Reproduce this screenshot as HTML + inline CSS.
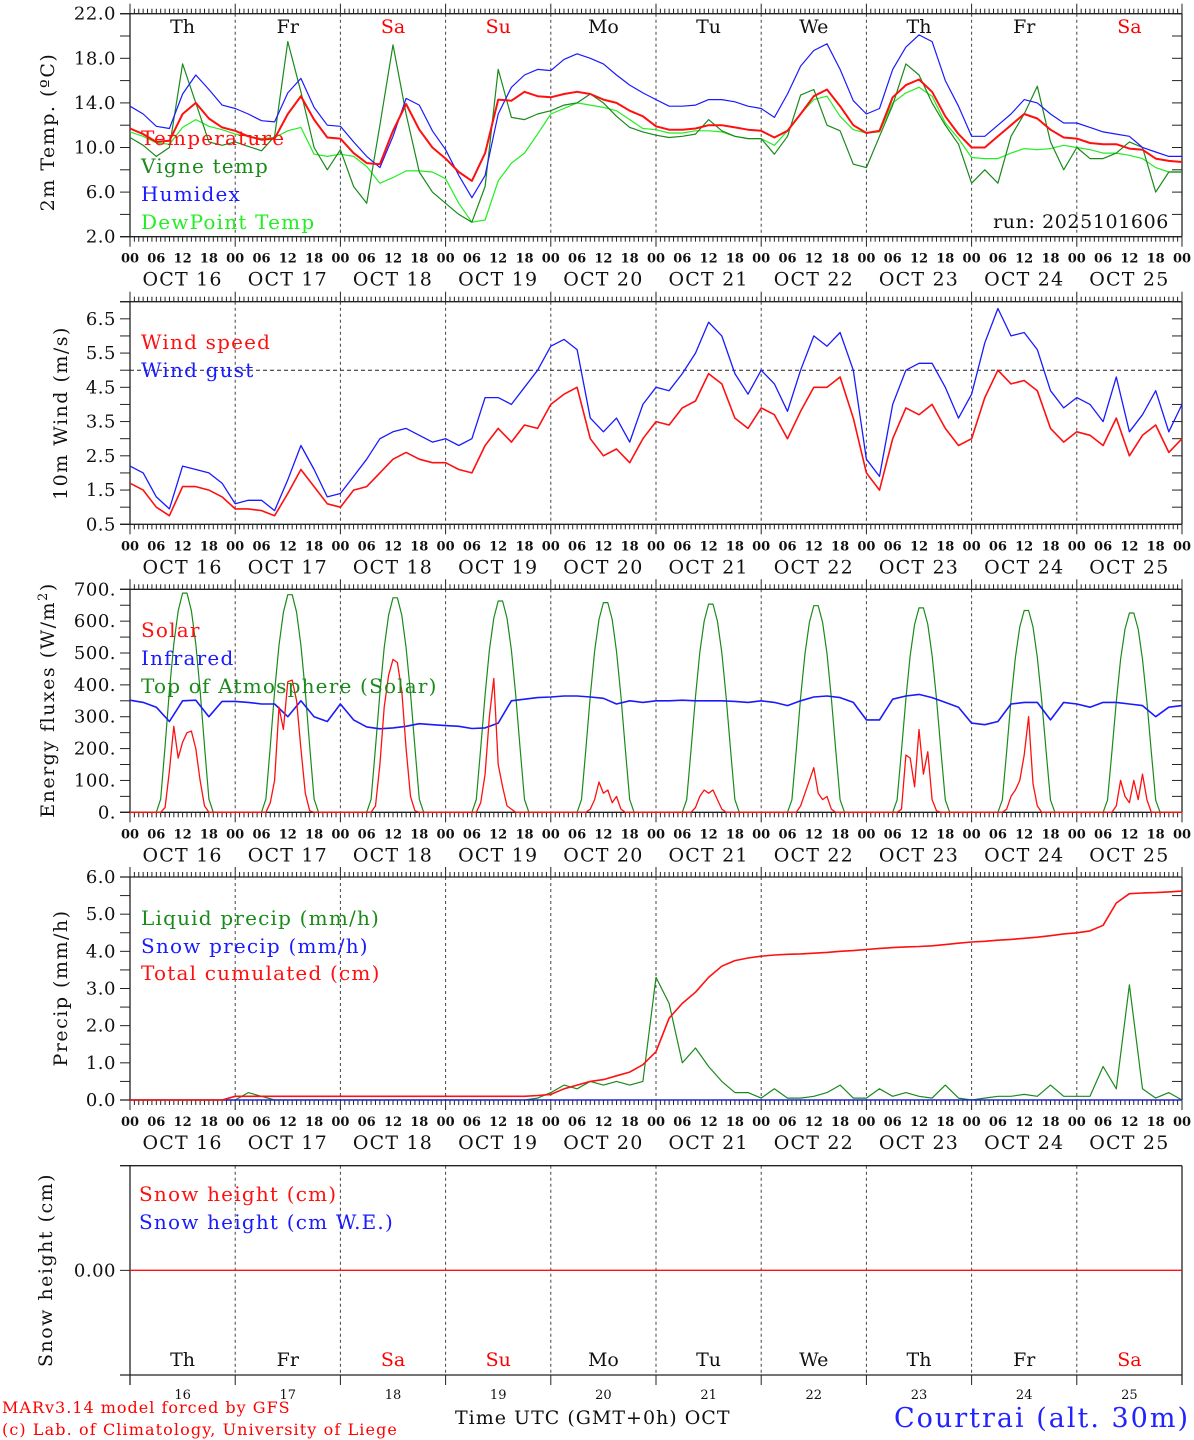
<!DOCTYPE html>
<html><head><meta charset="utf-8"><style>
html,body{margin:0;padding:0;background:#fff;}
svg{display:block;font-family:"DejaVu Serif","Liberation Serif",serif;}
</style></head><body>
<svg id="chart" width="1194" height="1440" viewBox="0 0 1194 1440" xmlns="http://www.w3.org/2000/svg"></svg>
<script>
// ---------- data (3-hourly unless noted, hours 0..240) ----------
const dayNames = ["Th","Fr","Sa","Su","Mo","Tu","We","Th","Fr","Sa"];
const dayNums = ["16","17","18","19","20","21","22","23","24","25"];
const hourLabels = ["00","06","12","18"];
const tempTicks = [2,6,10,14,18,22];
const windTicks = [0.5,1.5,2.5,3.5,4.5,5.5,6.5];
const fluxTicks = [0,100,200,300,400,500,600,700];
const precTicks = [0,1,2,3,4,5,6];

const temperature = [11.7,11.2,10.5,10.6,13.0,14.0,12.6,11.8, 11.5,11.0,10.7,10.8,13.0,14.6,12.5,10.9,
 10.8,9.5,8.6,8.5,11.5,13.9,11.6,10.0, 9.0,7.8,7.0,9.5,14.3,14.2,15.0,14.6,
 14.5,14.8,15.0,14.8,14.3,14.0,13.3,12.8, 11.9,11.6,11.6,11.7,12.0,12.0,11.8,11.6,
 11.5,10.9,11.5,13.0,14.6,15.2,13.7,12.0, 11.3,11.5,14.5,15.6,16.1,15.0,12.8,11.2,
 10.0,10.0,11.0,12.0,13.0,12.6,11.6,10.9, 10.8,10.4,10.3,10.3,9.9,9.8,9.0,8.8, 8.7];
const vigne = [10.9,10.2,9.2,10.0,17.5,14.0,10.5,10.2, 10.5,10.1,9.7,11.0,19.5,15.0,10.0,8.0,
 9.8,6.5,5.0,12.0,19.2,13.0,7.8,6.0, 5.0,4.0,3.3,6.5,17.0,12.7,12.5,13.0,
 13.3,13.8,14.0,14.8,14.0,12.8,11.8,11.4, 11.1,10.9,11.0,11.2,12.5,11.5,11.0,10.8,
 10.8,9.4,11.0,14.7,15.2,12.0,11.5,8.5, 8.2,11.0,13.8,17.5,16.5,14.0,12.0,10.3,
 6.8,8.0,6.8,11.0,13.0,15.5,10.5,8.0, 10.0,9.0,9.0,9.5,10.5,10.0,6.0,7.8, 7.8];
const humidex = [13.7,13.0,11.9,11.7,14.8,16.5,15.2,13.8, 13.5,13.0,12.4,12.3,14.9,16.2,13.6,12.0,
 11.9,10.5,9.2,8.2,11.0,14.4,13.8,11.5, 9.8,7.5,5.5,7.5,13.0,15.4,16.5,17.0,
 16.9,17.9,18.4,18.0,17.5,16.5,15.6,14.9, 14.3,13.7,13.7,13.8,14.3,14.3,14.1,13.7,
 13.5,12.7,14.8,17.3,18.7,19.3,17.0,14.2, 13.0,13.5,17.0,19.0,20.1,19.5,16.0,13.7,
 11.0,11.0,12.0,13.0,14.3,14.0,13.0,12.2, 12.2,11.8,11.4,11.2,11.0,10.0,9.6,9.2, 9.2];
const dewpoint = [11.4,11.0,10.4,10.3,11.8,12.5,11.9,11.6, 11.2,11.0,10.8,10.9,11.5,11.8,9.4,9.2,
 9.4,9.2,8.3,6.8,7.3,7.9,7.9,7.8, 7.2,5.0,3.3,3.5,7.0,8.6,9.5,11.2,
 13.0,13.5,14.0,13.8,13.6,13.3,12.5,11.7, 11.6,11.3,11.3,11.5,11.5,11.4,11.0,10.8,
 10.8,10.2,11.5,13.0,14.3,14.6,12.8,11.6, 11.3,11.4,14.0,14.9,15.4,14.6,12.2,10.8,
 9.1,9.0,9.0,9.5,9.9,9.8,9.9,10.2, 10.0,9.8,9.5,9.5,9.3,9.0,8.2,7.8, 7.8];

const windSpeed = [1.7,1.5,1.0,0.75,1.6,1.6,1.5,1.3, 0.95,0.95,0.9,0.75,1.4,2.1,1.6,1.1,
 1.0,1.5,1.6,2.0,2.4,2.6,2.4,2.3, 2.3,2.1,2.0,2.8,3.3,2.9,3.4,3.3,
 4.0,4.3,4.5,3.0,2.5,2.7,2.3,3.0, 3.5,3.4,3.9,4.1,4.9,4.6,3.6,3.3,
 3.9,3.7,3.0,3.8,4.5,4.5,4.8,3.6, 2.0,1.5,3.0,3.9,3.7,4.0,3.3,2.8,
 3.0,4.2,5.0,4.6,4.7,4.4,3.3,2.9, 3.2,3.1,2.8,3.6,2.5,3.1,3.4,2.6, 3.0];
const windGust = [2.2,2.0,1.3,0.95,2.2,2.1,2.0,1.7, 1.1,1.2,1.2,0.9,1.8,2.8,2.1,1.3,
 1.4,1.9,2.4,3.0,3.2,3.3,3.1,2.9, 3.0,2.8,3.0,4.2,4.2,4.0,4.5,5.0,
 5.7,5.9,5.6,3.6,3.2,3.6,2.9,4.0, 4.5,4.4,4.9,5.5,6.4,6.0,4.9,4.3,
 5.0,4.6,3.8,5.0,6.0,5.7,6.1,5.0, 2.4,1.9,4.0,5.0,5.2,5.2,4.5,3.6,
 4.3,5.8,6.8,6.0,6.1,5.6,4.4,3.9, 4.2,4.0,3.5,4.8,3.2,3.7,4.4,3.2, 4.0];

// energy: TOA = daily peak x hourly profile (profile)
const toaPeaks = [695,690,680,670,665,660,655,648,640,632];
const toaProfile = [0,0,0,0,0,0,0,0.06,0.3,0.55,0.76,0.91,0.99,0.99,0.91,0.76,0.55,0.3,0.06,0,0,0,0,0];
// solar: hourly values per day
const solarDays = [
 [0,0,0,0,0,0,0,0,15,130,270,170,220,250,255,200,100,20,0,0,0,0,0,0],
 [0,0,0,0,0,0,0,0,30,100,330,260,410,415,350,200,60,5,0,0,0,0,0,0],
 [0,0,0,0,0,0,0,0,20,150,330,430,480,470,380,200,50,5,0,0,0,0,0,0],
 [0,0,0,0,0,0,0,0,30,120,300,420,150,80,20,10,0,0,0,0,0,0,0,0],
 [0,0,0,0,0,0,0,0,0,10,40,95,60,70,30,50,10,0,0,0,0,0,0,0],
 [0,0,0,0,0,0,0,0,0,15,50,70,60,70,40,10,0,0,0,0,0,0,0,0],
 [0,0,0,0,0,0,0,0,0,20,60,100,140,60,40,50,10,0,0,0,0,0,0,0],
 [0,0,0,0,0,0,0,0,10,180,170,80,260,120,190,40,5,0,0,0,0,0,0,0],
 [0,0,0,0,0,0,0,0,10,50,70,100,180,300,90,20,0,0,0,0,0,0,0,0],
 [0,0,0,0,0,0,0,0,0,20,100,50,30,100,40,120,40,0,0,0,0,0,0,0]];
const infrared = [352,345,330,285,350,352,300,348, 348,345,340,340,300,350,300,285,
 340,290,268,262,265,270,278,275, 272,270,263,265,280,350,355,360,
 362,365,365,362,358,340,350,345, 350,350,352,350,350,350,348,345,
 350,345,335,350,362,365,360,345, 290,290,355,365,370,360,345,330,
 280,275,285,340,345,345,290,345, 340,330,345,345,340,335,300,330, 335];

const liquidPrecip = [0,0,0,0,0,0,0,0, 0,0.2,0.1,0,0,0,0,0, 0,0,0,0,0,0,0,0, 0,0,0,0,0,0,0,0.05,
 0.2,0.4,0.3,0.5,0.4,0.5,0.4,0.5, 3.3,2.6,1.0,1.4,0.9,0.5,0.2,0.2,
 0.05,0.3,0.05,0.05,0.1,0.2,0.4,0.05, 0.05,0.3,0.1,0.2,0.1,0.05,0.4,0.05,
 0,0.05,0.1,0.1,0.15,0.1,0.4,0.1, 0.1,0.1,0.9,0.3,3.1,0.3,0.05,0.2, 0];
const snowPrecip = new Array(81).fill(0);
const cumulPrecip = [0,0,0,0,0,0,0,0, 0.1,0.1,0.1,0.1,0.1,0.1,0.1,0.1, 0.1,0.1,0.1,0.1,0.1,0.1,0.1,0.1,
 0.1,0.1,0.1,0.1,0.1,0.1,0.1,0.12, 0.15,0.3,0.4,0.5,0.55,0.65,0.75,0.95,
 1.3,2.2,2.6,2.9,3.3,3.6,3.75,3.82, 3.87,3.9,3.92,3.93,3.95,3.97,4.0,4.02,
 4.05,4.08,4.1,4.12,4.13,4.15,4.18,4.22, 4.25,4.27,4.3,4.32,4.35,4.38,4.42,4.47,
 4.5,4.55,4.7,5.3,5.55,5.57,5.58,5.6, 5.62];
const snowHeight = new Array(81).fill(0);

// ---------- drawing ----------
const svg = document.getElementById('chart');
const NS = "http://www.w3.org/2000/svg";
const L = 130, R = 1182;
function X(h){ return L + h*(R-L)/240; }
function mk(tag, attrs, parent){ const e=document.createElementNS(NS,tag); for(const k in attrs) e.setAttribute(k,attrs[k]); (parent||svg).appendChild(e); return e; }
function txt(s, x, y, attrs){ const t=mk('text', Object.assign({x:x,y:y},attrs||{})); t.textContent=s; return t; }

const panels = [
 {name:'temperature', top:13.7, bot:236.7, min:2, max:22},
 {name:'wind', top:301.7, bot:524.3, min:0.5, max:7.0},
 {name:'flux', top:589.3, bot:812.3, min:0, max:700},
 {name:'precip', top:877, bot:1100, min:0, max:6},
 {name:'snow', top:1165.7, bot:1375, min:-1, max:1}
];
function Yf(p){ return v => p.bot - (v-p.min)*(p.bot-p.top)/(p.max-p.min); }

function series(p, arr, step, color, w, name){
  const Y = Yf(p); let d='';
  arr.forEach((v,i)=>{ d += (i?'L':'M') + X(i*step).toFixed(1) + ' ' + Y(v).toFixed(1); });
  const e = mk('path',{d:d,fill:'none',stroke:color,'stroke-width':w,'stroke-linejoin':'round'});
  
  
}

function frame(p, idx, yTicks, minorStep, fmt, hourTicks){
  const g = mk('g',{});
  
  
  const Y = Yf(p);
  for(let d=1; d<10; d++) mk('line',{x1:X(d*24),x2:X(d*24),y1:p.top,y2:p.bot,stroke:'#444','stroke-width':1,'stroke-dasharray':'3,3'},g);
  mk('line',{x1:120,x2:R,y1:p.top,y2:p.top,stroke:'#222','stroke-width':1.3},g);
  mk('line',{x1:120,x2:R,y1:p.bot,y2:p.bot,stroke:'#222','stroke-width':1.3},g);
  mk('line',{x1:L,x2:L,y1:p.top,y2:p.bot+(hourTicks?0:10),stroke:'#222','stroke-width':1.3},g);
  mk('line',{x1:R,x2:R,y1:p.top,y2:p.bot+(hourTicks?0:10),stroke:'#222','stroke-width':1.3},g);
  if(minorStep){
    for(let v=p.min; v<=p.max+1e-9; v+=minorStep){
      const y=Y(v);
      mk('line',{x1:120,x2:L,y1:y,y2:y,stroke:'#222','stroke-width':1},g);
      mk('line',{x1:R-10,x2:R,y1:y,y2:y,stroke:'#222','stroke-width':1},g);
    }
  }
  yTicks.forEach(v=>{
    const t = txt(fmt(v), 116, Y(v)+6, {'text-anchor':'end','font-size':18,fill:'#111','letter-spacing':'0.5'});
    
    
  });
  if(hourTicks){
    for(let h=0; h<=240; h++){
      const x=X(h), big = h%24===0;
      mk('line',{x1:x,x2:x,y1:p.bot,y2:p.bot+(big?10:5),stroke:'#222','stroke-width':1},g);
      mk('line',{x1:x,x2:x,y1:p.top,y2:p.top-(big?10:5),stroke:'#222','stroke-width':1},g);
    }
    for(let h=0; h<=240; h+=6){
      const t = txt(hourLabels[(h/6)%4], X(h), p.bot+26, {'text-anchor':'middle','font-size':13,'font-weight':'bold',fill:'#111'});
      
      
    }
    dayNums.forEach((n,d)=>{
      const t = txt('OCT '+n, X(d*24+12), p.bot+49, {'text-anchor':'middle','font-size':19,fill:'#111','letter-spacing':'1.2'});
      
      
    });
  }
}
function ytitle(s, x, y, name){
  const t = txt(s, 0, 0, {'text-anchor':'middle','font-size':19,fill:'#111','letter-spacing':'1.5',
    'font-family':'"DejaVu Serif","Liberation Serif",serif',transform:'translate('+x+','+y+') rotate(-90)'});
  
  
  return t;
}
function legend(s, x, y, color, name){
  const t = txt(s, x, y, {'font-size':20,fill:color,'letter-spacing':'1.2'});
  
  
}

// Panel 1
const p1=panels[0];
frame(p1,0,tempTicks,2,v=>v.toFixed(1),true);
dayNames.forEach((n,d)=>{
  const t=txt(n, X(d*24+12), 33, {'text-anchor':'middle','font-size':19,fill:(n==='Sa'||n==='Su')?'#f00':'#111'});
  
  
});
series(p1, dewpoint, 3, '#22ee22', 1.2, 'dewpoint-line');
series(p1, vigne, 3, '#1a8a1a', 1.2, 'vigne-temp-line');
series(p1, humidex, 3, '#1a1aff', 1.2, 'humidex-line');
series(p1, temperature, 3, '#ff1010', 2, 'temperature-line');
legend('Temperature',141,145,'#ff1010','legend-temperature');
legend('Vigne temp',141,173,'#1a8a1a','legend-vigne-temp');
legend('Humidex',141,201,'#1a1aff','legend-humidex');
legend('DewPoint Temp',141,229,'#22ee22','legend-dewpoint');
ytitle('2m Temp. (ºC)',54,132,'temperature-y-axis-title');
{ const t=txt('run: 2025101606',1169,228,{'text-anchor':'end','font-size':19,fill:'#111','letter-spacing':'0.6'});
    }

// Panel 2
const p2=panels[1];
frame(p2,1,windTicks,0.5,v=>v.toFixed(1),true);
{ const Y=Yf(p2); const e=mk('line',{x1:L,x2:R,y1:Y(5),y2:Y(5),stroke:'#222','stroke-width':1,'stroke-dasharray':'4,3'});
    }
series(p2, windGust, 3, '#1a1aff', 1.3, 'wind-gust-line');
series(p2, windSpeed, 3, '#ff1010', 1.6, 'wind-speed-line');
legend('Wind speed',141,349,'#ff1010','legend-wind-speed');
legend('Wind gust',141,377,'#1a1aff','legend-wind-gust');
ytitle('10m Wind (m/s)',67,413,'wind-y-axis-title');

// Panel 3
const p3=panels[2];
frame(p3,2,fluxTicks,50,v=>v+'.',true);
const toa=[], solar=[];
for(let d=0; d<10; d++) for(let h=0; h<24; h++){ toa.push(toaPeaks[d]*toaProfile[h]); solar.push(solarDays[d][h]); }
toa.push(0); solar.push(0);
series(p3, toa, 1, '#1a8a1a', 1.2, 'toa-solar-line');
series(p3, infrared, 3, '#1a1aff', 1.6, 'infrared-line');
series(p3, solar, 1, '#ff1010', 1.3, 'solar-line');
legend('Solar',141,637,'#ff1010','legend-solar');
legend('Infrared',141,665,'#1a1aff','legend-infrared');
legend('Top of Atmosphere (Solar)',141,693,'#1a8a1a','legend-toa');
{ const t=ytitle('Energy fluxes (W/m',54,700,'flux-y-axis-title');
  const s=document.createElementNS(NS,'tspan'); s.setAttribute('dy','-7'); s.setAttribute('font-size','13'); s.textContent='2'; t.appendChild(s);
  const s2=document.createElementNS(NS,'tspan'); s2.setAttribute('dy','7'); s2.textContent=')'; t.appendChild(s2); }

// Panel 4
const p4=panels[3];
frame(p4,3,precTicks,0.5,v=>v.toFixed(1),true);
series(p4, liquidPrecip, 3, '#1a8a1a', 1.2, 'liquid-precip-line');
series(p4, snowPrecip, 3, '#1a1aff', 1.3, 'snow-precip-line');
series(p4, cumulPrecip, 3, '#ff1010', 1.6, 'cumulated-precip-line');
legend('Liquid precip (mm/h)',141,925,'#1a8a1a','legend-liquid-precip');
legend('Snow precip (mm/h)',141,953,'#1a1aff','legend-snow-precip');
legend('Total cumulated (cm)',141,980,'#ff1010','legend-cumulated');
ytitle('Precip (mm/h)',67,988,'precip-y-axis-title');

// Panel 5
const p5=panels[4];
frame(p5,4,[],0,v=>v,false);
{ const Y=Yf(p5); mk('line',{x1:120,x2:L,y1:Y(0),y2:Y(0),stroke:'#222','stroke-width':1});
  const t=txt('0.00',116,Y(0)+6,{'text-anchor':'end','font-size':18,fill:'#111','letter-spacing':'0.5'});
   
  for(let d=0; d<=10; d++) mk('line',{x1:X(d*24),x2:X(d*24),y1:p5.bot,y2:p5.bot+10,stroke:'#222','stroke-width':1}); }
series(p5, snowHeight, 3, '#ff1010', 1.4, 'snow-height-line');
legend('Snow height (cm)',139,1201,'#ff1010','legend-snow-height');
legend('Snow height (cm W.E.)',139,1229,'#1a1aff','legend-snow-height-we');
ytitle('Snow height (cm)',52,1270,'snow-y-axis-title');
dayNames.forEach((n,d)=>{
  const t=txt(n, X(d*24+12), 1366, {'text-anchor':'middle','font-size':19,fill:(n==='Sa'||n==='Su')?'#f00':'#111'});
  
  
  const t2=txt(dayNums[d], X(d*24+12), 1399, {'text-anchor':'middle','font-size':13,fill:'#111'});
  
  
});

// footer
{ let t=txt('MARv3.14 model forced by GFS',2,1413,{'font-size':16,fill:'#f00','letter-spacing':'1'});
   
  t=txt('(c) Lab. of Climatology, University of Liege',2,1435,{'font-size':16,fill:'#f00','letter-spacing':'1.1'});
   
  t=txt('Time UTC (GMT+0h) OCT',455,1424,{'font-size':19,fill:'#111','letter-spacing':'1'});
   
  t=txt('Courtrai (alt. 30m)',1190,1427,{'text-anchor':'end','font-size':27,fill:'#2222ff','letter-spacing':'2'});
    }
</script>
</body></html>
